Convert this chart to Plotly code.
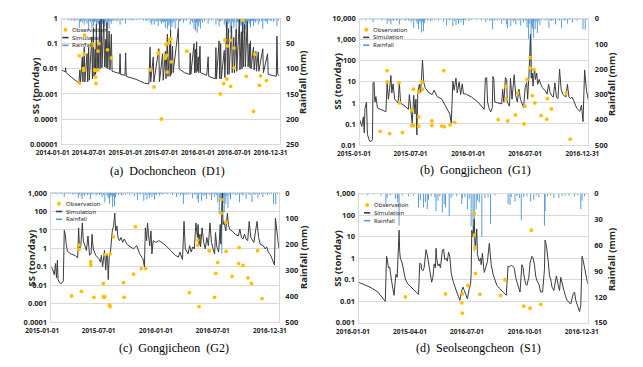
import plotly.graph_objects as go

# ---------------- data: (a) Dochoncheon (D1) ----------------
a_sim = [
("2014-01-01",0.009),("2014-01-18",0.0075),("2014-01-20",0.011),("2014-01-23",0.007),
("2014-02-20",0.0045),("2014-03-28",0.0027),("2014-04-02",0.009),("2014-04-05",0.0028),
("2014-04-14",0.03),("2014-04-17",0.003),("2014-04-24",0.073),("2014-04-27",0.003),
("2014-05-08",0.04),("2014-05-11",0.003),("2014-05-16",0.073),("2014-05-19",0.0035),
("2014-06-01",0.18),("2014-06-04",0.004),("2014-06-09",0.44),("2014-06-12",0.005),
("2014-06-18",0.06),("2014-06-20",0.006),("2014-06-24",0.59),("2014-06-27",0.008),
("2014-07-03",0.1),("2014-07-05",0.009),("2014-07-10",0.79),("2014-07-13",0.01),
("2014-07-18",1.0),("2014-07-22",0.011),("2014-07-31",0.9),("2014-08-04",0.012),
("2014-08-10",0.15),("2014-08-12",0.011),("2014-08-16",0.68),("2014-08-20",0.01),
("2014-08-27",0.32),("2014-08-31",0.009),("2014-09-07",0.24),("2014-09-11",0.008),
("2014-10-18",0.0065),("2014-10-21",0.04),("2014-10-24",0.006),("2014-11-15",0.0055),
("2014-11-18",0.043),("2014-11-21",0.005),("2015-01-10",0.0038),("2015-02-20",0.0027),
("2015-03-15",0.0025),("2015-03-21",0.073),("2015-03-24",0.003),("2015-04-06",0.03),
("2015-04-09",0.003),("2015-05-04",0.063),("2015-05-07",0.003),("2015-05-23",0.04),
("2015-05-26",0.0035),("2015-06-06",0.05),("2015-06-09",0.004),("2015-06-16",0.24),
("2015-06-19",0.005),("2015-06-28",0.1),("2015-06-30",0.005),("2015-07-02",0.35),
("2015-07-05",0.006),("2015-07-12",0.08),("2015-07-15",0.007),("2015-08-10",0.4),
("2015-08-14",0.01),("2015-09-10",0.007),("2015-10-06",0.006),("2015-10-09",0.043),
("2015-10-12",0.006),("2015-10-28",0.1),("2015-10-31",0.007),("2015-11-04",0.06),
("2015-11-07",0.007),("2015-11-10",0.12),("2015-11-13",0.008),("2015-11-18",0.03),
("2015-11-21",0.007),("2015-11-27",0.08),("2015-11-30",0.007),("2015-12-31",0.0055),
("2016-01-07",0.03),("2016-01-10",0.005),("2016-02-12",0.004),("2016-02-15",0.07),
("2016-02-18",0.004),("2016-03-02",0.13),("2016-03-05",0.004),("2016-03-10",0.1),
("2016-03-13",0.004),("2016-03-28",0.054),("2016-03-31",0.0045),("2016-04-10",0.76),
("2016-04-13",0.006),("2016-04-18",0.4),("2016-04-21",0.006),("2016-05-04",0.5),
("2016-05-07",0.007),("2016-05-15",0.18),("2016-05-18",0.007),("2016-05-27",0.37),
("2016-05-30",0.008),("2016-06-12",0.9),("2016-06-15",0.009),("2016-06-22",0.3),
("2016-06-25",0.01),("2016-06-28",1.0),("2016-07-02",0.012),("2016-07-09",0.58),
("2016-07-12",0.012),("2016-07-22",0.79),("2016-07-26",0.012),("2016-08-01",0.1),
("2016-08-04",0.011),("2016-08-07",0.13),("2016-08-10",0.01),("2016-08-22",0.073),
("2016-08-25",0.009),("2016-09-03",0.05),("2016-09-06",0.008),("2016-09-15",0.047),
("2016-09-18",0.008),("2016-10-08",0.063),("2016-10-11",0.007),("2016-11-01",0.04),
("2016-11-04",0.006),("2016-12-15",0.005),("2016-12-18",0.2),("2016-12-22",0.006),
("2016-12-31",0.005)]
a_obs = [
("2014-03-30",0.033),("2014-03-30",0.0027),("2014-04-20",0.0105),("2014-04-21",0.0086),
("2014-04-23",0.038),("2014-04-25",0.22),("2014-06-04",0.098),("2014-06-05",0.085),
("2014-06-15",0.009),("2014-06-18",0.0087),("2014-06-20",0.0047),("2014-06-22",0.0026),
("2014-07-02",0.009),("2014-07-02",0.051),("2014-07-07",0.1),("2014-08-19",0.057),
("2014-09-08",0.027),("2015-03-21",0.009),("2015-04-10",0.0019),("2015-05-01",0.044),
("2015-05-03",0.04),("2015-05-17",0.0001),("2015-06-06",0.027),("2015-06-09",0.093),
("2015-06-13",0.034),("2015-06-15",0.0074),("2015-06-23",0.107),("2015-06-28",0.15),
("2015-07-03",0.16),("2015-07-06",0.019),("2015-09-22",0.05),("2016-03-08",0.001),
("2016-03-25",0.0026),("2016-03-31",0.14),("2016-04-10",0.0039),("2016-04-12",0.082),
("2016-04-27",0.14),("2016-04-29",0.002),("2016-05-16",0.067),("2016-05-16",0.011),
("2016-06-29",0.86),("2016-07-17",0.005),("2016-08-22",0.0002),("2016-08-28",0.038),
("2016-09-21",0.0022),("2016-09-26",0.0052),("2016-10-26",0.0034)]
a_rain = [
("2014-01-05",1),("2014-01-12",2),("2014-01-28",2),("2014-02-05",3),("2014-02-12",2),
("2014-02-20",4),("2014-03-01",3),("2014-03-08",5),("2014-03-14",2),("2014-03-20",3),
("2014-03-30",18),("2014-04-05",6),("2014-04-09",4),("2014-04-14",8),("2014-04-19",3),
("2014-04-24",12),("2014-05-02",5),("2014-05-08",10),("2014-05-16",25),("2014-05-20",4),
("2014-05-25",6),("2014-06-01",18),("2014-06-05",6),("2014-06-09",15),("2014-06-15",8),
("2014-06-19",5),("2014-06-24",31),("2014-06-28",8),("2014-07-02",12),("2014-07-06",10),
("2014-07-10",37),("2014-07-14",12),("2014-07-18",34),("2014-07-25",10),("2014-07-31",28),
("2014-08-05",15),("2014-08-10",9),("2014-08-16",25),("2014-08-20",12),("2014-08-24",6),
("2014-08-27",20),("2014-09-02",5),("2014-09-07",10),("2014-09-14",4),("2014-09-20",5),
("2014-09-27",3),("2014-10-05",6),("2014-10-12",4),("2014-10-21",12),("2014-10-28",2),
("2014-11-02",4),("2014-11-10",3),("2014-11-18",10),("2014-11-26",2),("2014-12-05",3),
("2014-12-12",2),("2014-12-20",4),("2014-12-28",3),("2015-01-10",3),("2015-01-20",2),
("2015-01-28",2),("2015-02-05",2),("2015-02-15",4),("2015-02-25",3),("2015-03-05",5),
("2015-03-12",3),("2015-03-21",8),("2015-03-29",12),("2015-04-02",4),("2015-04-10",12),
("2015-04-15",5),("2015-04-20",6),("2015-04-27",4),("2015-05-01",15),("2015-05-06",3),
("2015-05-11",6),("2015-05-17",10),("2015-05-22",5),("2015-05-27",8),("2015-06-01",6),
("2015-06-06",18),("2015-06-11",5),("2015-06-16",21),("2015-06-23",14),("2015-06-28",9),
("2015-07-02",25),("2015-07-05",6),("2015-07-09",16),("2015-07-15",8),("2015-07-20",5),
("2015-07-25",20),("2015-08-01",4),("2015-08-10",21),("2015-08-15",5),("2015-08-20",6),
("2015-08-28",3),("2015-09-05",8),("2015-09-12",3),("2015-09-20",4),("2015-09-28",2),
("2015-10-09",12),("2015-10-14",4),("2015-10-20",8),("2015-10-28",21),("2015-11-01",6),
("2015-11-05",25),("2015-11-09",8),("2015-11-13",28),("2015-11-16",5),("2015-11-20",15),
("2015-11-24",6),("2015-11-29",20),("2015-12-04",3),("2015-12-10",8),("2015-12-20",5),
("2015-12-28",2),("2016-01-07",10),("2016-01-15",3),("2016-01-25",4),("2016-02-02",2),
("2016-02-15",12),("2016-02-22",4),("2016-03-02",15),("2016-03-06",5),("2016-03-10",6),
("2016-03-18",4),("2016-03-28",12),("2016-04-02",6),("2016-04-06",18),("2016-04-10",22),
("2016-04-14",5),("2016-04-17",10),("2016-04-22",7),("2016-04-27",28),("2016-05-04",20),
("2016-05-09",6),("2016-05-15",18),("2016-05-20",8),("2016-05-27",37),("2016-06-01",6),
("2016-06-05",8),("2016-06-08",5),("2016-06-12",25),("2016-06-16",10),("2016-06-20",15),
("2016-06-24",12),("2016-06-28",63),("2016-07-02",30),("2016-07-05",14),("2016-07-09",44),
("2016-07-13",10),("2016-07-16",20),("2016-07-19",8),("2016-07-22",34),("2016-07-27",6),
("2016-08-01",10),("2016-08-07",18),("2016-08-12",5),("2016-08-17",4),("2016-08-22",15),
("2016-08-28",5),("2016-09-02",8),("2016-09-08",4),("2016-09-15",12),("2016-09-22",6),
("2016-10-02",5),("2016-10-08",20),("2016-10-14",4),("2016-10-20",6),("2016-10-26",5),
("2016-11-01",10),("2016-11-08",3),("2016-11-15",5),("2016-11-22",4),("2016-12-01",6),
("2016-12-08",3),("2016-12-18",15),("2016-12-25",4)]

# ---------------- data: (b) Gongjicheon (G1) ----------------
b_sim = [
("2015-01-01",0.15),("2015-01-07",0.077),("2015-01-12",0.22),("2015-01-15",0.038),
("2015-01-17",0.54),("2015-01-22",1.1),("2015-01-25",0.032),("2015-02-01",0.0155),
("2015-02-06",0.015),("2015-02-10",0.018),("2015-02-12",9),("2015-02-15",10),
("2015-02-18",1.1),("2015-02-21",2),("2015-02-26",0.58),("2015-03-13",0.45),
("2015-03-25",0.38),("2015-03-29",9),("2015-04-02",1.5),("2015-04-06",5),
("2015-04-10",20),("2015-04-13",3),("2015-04-17",8),("2015-04-22",1.5),
("2015-05-03",1.0),("2015-05-07",9),("2015-05-11",1.0),("2015-05-25",0.7),
("2015-06-05",0.5),("2015-06-08",2.5),("2015-06-12",0.4),("2015-06-17",0.11),
("2015-06-22",2.3),("2015-06-26",0.3),("2015-06-29",1.5),("2015-07-02",0.03),
("2015-07-05",3.2),("2015-07-10",7.7),("2015-07-14",3),("2015-07-20",107),
("2015-07-24",9.5),("2015-07-29",5),("2015-08-10",3),("2015-08-20",2.5),
("2015-08-26",4),("2015-09-05",2),("2015-09-20",1.5),("2015-10-05",0.6),
("2015-10-15",0.3),("2015-10-20",0.11),("2015-10-25",11),("2015-10-29",4),
("2015-11-04",15),("2015-11-08",3),("2015-11-14",10),("2015-11-19",2.5),
("2015-11-24",8),("2015-11-28",2.7),("2015-12-04",2.7),("2015-12-24",1.9),
("2016-01-13",1.1),("2016-02-02",0.5),("2016-02-06",15),("2016-02-10",16),
("2016-02-13",1.1),("2016-02-18",0.54),("2016-02-23",0.37),("2016-02-28",0.6),
("2016-03-01",18),("2016-03-04",13),("2016-03-07",1.1),("2016-03-29",0.9),
("2016-04-01",4.5),("2016-04-05",1.1),("2016-04-10",16),("2016-04-14",13),
("2016-04-16",1.1),("2016-04-23",0.7),("2016-04-26",15),("2016-05-01",1.5),
("2016-05-08",22),("2016-05-13",2.2),("2016-05-18",1.1),("2016-05-23",4.5),
("2016-05-28",1.5),("2016-06-07",0.6),("2016-06-12",5.3),("2016-06-17",9.2),
("2016-06-20",1.5),("2016-06-24",18),("2016-06-27",1070),("2016-06-29",1800),
("2016-07-02",15),("2016-07-05",26),("2016-07-07",6.3),("2016-07-12",45),
("2016-07-15",13),("2016-07-19",26),("2016-07-22",7.6),("2016-07-27",13),
("2016-08-01",7.6),("2016-08-06",5.3),("2016-08-16",3.7),("2016-08-21",2.6),
("2016-08-26",7.6),("2016-08-31",3.1),("2016-09-05",2.2),("2016-09-10",1.9),
("2016-09-15",9),("2016-09-20",1.9),("2016-09-25",1.6),("2016-09-30",40),
("2016-10-05",4.5),("2016-10-10",2.6),("2016-10-15",2.2),("2016-10-20",1.9),
("2016-10-25",7.6),("2016-10-30",1.9),("2016-11-04",1.6),("2016-11-09",1.9),
("2016-11-14",1.3),("2016-11-19",0.8),("2016-11-24",0.55),("2016-12-04",0.4),
("2016-12-09",0.8),("2016-12-14",0.13),("2016-12-19",37),("2016-12-25",4),
("2016-12-31",1.3)]
b_obs = [
("2015-03-07",0.045),("2015-03-29",34),("2015-03-29",10),("2015-04-06",0.035),
("2015-05-06",9),("2015-05-08",1.0),("2015-05-17",0.04),("2015-06-16",0.45),
("2015-06-16",0.085),("2015-06-21",0.085),("2015-06-21",4.5),("2015-07-08",3.2),
("2015-07-08",0.22),("2015-07-08",0.08),("2015-07-18",10),("2015-07-20",4.5),
("2015-08-19",0.14),("2015-08-19",0.085),("2015-09-26",34),("2015-09-19",0.08),
("2015-09-28",0.075),("2015-10-16",0.09),("2015-10-31",0.12),("2016-03-18",0.16),
("2016-04-12",6),("2016-04-12",1.5),("2016-04-17",0.14),("2016-05-12",0.27),
("2016-05-19",3),("2016-06-08",0.1),("2016-06-11",0.7),("2016-06-18",13),
("2016-06-28",45),("2016-06-28",140),("2016-07-05",2.2),("2016-07-10",39),
("2016-07-13",1.0),("2016-08-02",0.25),("2016-08-22",1.6),("2016-08-20",0.17),
("2016-09-04",0.52),("2016-10-21",3),("2016-11-03",0.019)]

# ---------------- data: (c) Gongjicheon (G2) ----------------
c_sim = [
("2015-01-01",0.1),("2015-01-05",0.08),("2015-01-11",0.037),("2015-01-15",0.15),
("2015-01-18",0.025),("2015-01-21",0.23),("2015-01-23",0.02),("2015-01-28",0.0135),
("2015-02-02",0.012),("2015-02-09",0.017),("2015-02-12",9.5),("2015-02-15",6),
("2015-02-18",1.8),("2015-02-22",0.7),("2015-03-05",0.5),("2015-03-20",0.4),
("2015-03-27",0.3),("2015-03-30",13),("2015-04-02",0.93),("2015-04-06",1.4),
("2015-04-11",24),("2015-04-14",2.6),("2015-04-19",1.4),("2015-04-24",0.77),
("2015-04-29",4.7),("2015-05-04",0.42),("2015-05-09",0.5),("2015-05-12",5.8),
("2015-05-16",0.93),("2015-05-24",0.42),("2015-06-03",0.28),("2015-06-08",0.18),
("2015-06-11",0.42),("2015-06-15",0.1),("2015-06-21",0.77),("2015-06-25",0.066),
("2015-06-28",0.5),("2015-07-01",0.28),("2015-07-03",0.02),("2015-07-06",0.34),
("2015-07-10",0.63),("2015-07-14",3.2),("2015-07-16",8.8),("2015-07-20",16),
("2015-07-24",81),("2015-07-27",8.8),("2015-07-31",16),("2015-08-03",3.9),
("2015-08-08",2.6),("2015-08-13",3.9),("2015-08-18",2.1),("2015-08-23",3.2),
("2015-09-02",1.6),("2015-09-22",0.93),("2015-10-02",1.4),("2015-10-12",0.5),
("2015-10-22",0.28),("2015-10-27",0.1),("2015-10-30",13),("2015-11-03",2.6),
("2015-11-06",24),("2015-11-09",5.8),("2015-11-13",1.4),("2015-11-17",8.8),
("2015-11-20",0.5),("2015-11-24",2.6),("2015-12-02",2.1),("2015-12-12",2.6),
("2015-12-22",2.1),("2016-01-04",1.4),("2016-01-14",0.93),("2016-01-24",0.63),
("2016-02-03",0.42),("2016-02-13",0.34),("2016-02-18",0.63),("2016-02-23",0.34),
("2016-02-26",0.25),("2016-03-02",29),("2016-03-06",0.93),("2016-03-15",0.5),
("2016-03-20",1.4),("2016-03-25",0.63),("2016-03-30",1.2),("2016-04-04",0.93),
("2016-04-09",24),("2016-04-14",3.9),("2016-04-16",19.6),("2016-04-19",1.4),
("2016-04-22",5.8),("2016-04-24",1.2),("2016-04-29",13),("2016-05-04",2.1),
("2016-05-09",0.93),("2016-05-14",3.9),("2016-05-19",1.4),("2016-05-24",24),
("2016-05-29",2.1),("2016-06-03",0.93),("2016-06-08",0.5),("2016-06-11",7.2),
("2016-06-15",1.2),("2016-06-21",0.63),("2016-06-26",19.6),("2016-06-28",1.7),
("2016-07-01",500),("2016-07-03",1000),("2016-07-05",19.6),("2016-07-08",29),
("2016-07-14",8.8),("2016-07-19",81),("2016-07-22",19.6),("2016-07-26",11),
("2016-08-03",8.8),("2016-08-13",5.8),("2016-08-23",4.7),("2016-08-28",11),
("2016-09-02",3.9),("2016-09-07",3.2),("2016-09-12",5.8),("2016-09-17",3.2),
("2016-09-22",2.6),("2016-09-27",29),("2016-10-02",3.9),("2016-10-07",2.6),
("2016-10-12",2.1),("2016-10-22",29),("2016-10-27",3.9),("2016-11-01",1.7),
("2016-11-11",1.4),("2016-11-17",0.93),("2016-11-22",1.2),("2016-11-27",0.63),
("2016-12-02",0.5),("2016-12-07",0.34),("2016-12-12",0.18),("2016-12-17",0.125),
("2016-12-20",44),("2016-12-24",13),("2016-12-29",1.4),("2016-12-31",1.0)]
c_obs = [
("2015-03-07",0.0026),("2015-03-31",1.5),("2015-03-31",0.87),("2015-04-08",0.0047),
("2015-05-08",0.19),("2015-05-08",0.125),("2015-05-18",0.0022),("2015-06-17",0.0125),
("2015-06-17",0.0023),("2015-06-22",0.0023),("2015-06-23",0.46),("2015-07-07",0.00085),
("2015-07-09",0.0007),("2015-07-09",0.5),("2015-07-20",4.2),("2015-08-21",0.014),
("2015-08-23",0.0022),("2015-09-22",0.04),("2015-09-28",15),("2015-10-17",0.08),
("2015-10-31",0.08),("2016-03-19",0.004),("2016-04-15",2.8),("2016-04-15",1.5),
("2016-04-19",0.0007),("2016-05-22",0.74),("2016-06-08",0.0022),("2016-06-12",0.044),
("2016-06-18",0.17),("2016-06-29",440),("2016-06-29",80),("2016-07-14",26),
("2016-07-15",0.68),("2016-08-03",0.03),("2016-08-26",1.1),("2016-08-24",0.15),
("2016-09-07",0.12),("2016-09-23",0.025),("2016-10-04",0.0125),("2016-10-24",0.74),
("2016-11-07",0.0019)]

# rainfall shown in the two Gongjicheon panels (b) and (c)
g_rain = [
("2015-01-05",4),("2015-01-10",2),("2015-01-15",3),("2015-01-20",6),("2015-01-27",2),
("2015-02-01",3),("2015-02-05",5),("2015-02-12",15),("2015-02-18",4),("2015-02-25",4),
("2015-03-03",3),("2015-03-10",6),("2015-03-15",5),("2015-03-20",3),("2015-03-25",4),
("2015-03-29",20),("2015-04-02",6),("2015-04-07",12),("2015-04-10",23),("2015-04-14",5),
("2015-04-18",10),("2015-04-23",4),("2015-04-28",8),("2015-05-02",5),("2015-05-07",23),
("2015-05-11",4),("2015-05-15",6),("2015-05-20",3),("2015-05-25",10),("2015-05-30",5),
("2015-06-05",8),("2015-06-09",4),("2015-06-13",15),("2015-06-17",8),("2015-06-22",36),
("2015-06-26",6),("2015-06-30",10),("2015-07-03",20),("2015-07-07",42),("2015-07-10",8),
("2015-07-12",15),("2015-07-14",6),("2015-07-17",55),("2015-07-20",12),("2015-07-23",50),
("2015-07-26",18),("2015-07-30",5),("2015-08-05",8),("2015-08-10",4),("2015-08-15",10),
("2015-08-20",6),("2015-08-28",6),("2015-09-03",3),("2015-09-10",8),("2015-09-17",4),
("2015-09-25",12),("2015-10-01",3),("2015-10-05",27),("2015-10-10",5),("2015-10-15",6),
("2015-10-20",4),("2015-10-25",30),("2015-10-30",8),("2015-11-04",25),("2015-11-08",6),
("2015-11-12",20),("2015-11-16",5),("2015-11-20",15),("2015-11-24",6),("2015-11-28",25),
("2015-12-01",4),("2015-12-05",8),("2015-12-10",3),("2015-12-15",10),("2015-12-20",4),
("2015-12-25",6),("2015-12-30",2),("2016-01-05",3),("2016-01-10",5),("2016-01-18",2),
("2016-01-25",8),("2016-02-01",3),("2016-02-07",15),("2016-02-13",5),("2016-02-20",10),
("2016-02-25",6),("2016-02-29",42),("2016-03-05",8),("2016-03-10",4),("2016-03-15",8),
("2016-03-22",5),("2016-03-29",20),("2016-04-04",6),("2016-04-08",5),("2016-04-13",23),
("2016-04-17",38),("2016-04-22",6),("2016-04-27",30),("2016-05-01",5),("2016-05-05",12),
("2016-05-09",6),("2016-05-13",23),("2016-05-18",5),("2016-05-24",8),("2016-05-29",28),
("2016-06-03",4),("2016-06-07",15),("2016-06-12",6),("2016-06-15",8),("2016-06-18",36),
("2016-06-23",80),("2016-06-27",20),("2016-07-01",235),("2016-07-03",30),("2016-07-05",40),
("2016-07-07",15),("2016-07-09",75),("2016-07-11",10),("2016-07-14",42),("2016-07-17",12),
("2016-07-21",57),("2016-07-25",8),("2016-07-29",25),("2016-08-03",5),("2016-08-09",4),
("2016-08-15",8),("2016-08-21",6),("2016-08-27",36),("2016-09-01",5),("2016-09-05",10),
("2016-09-10",6),("2016-09-17",23),("2016-09-24",5),("2016-09-30",8),("2016-10-06",36),
("2016-10-11",4),("2016-10-15",8),("2016-10-19",5),("2016-10-25",20),("2016-10-30",6),
("2016-11-05",4),("2016-11-10",15),("2016-11-18",5),("2016-11-25",8),("2016-11-30",3),
("2016-12-07",4),("2016-12-14",42),("2016-12-21",44),("2016-12-26",5)]

# ---------------- data: (d) Seolseongcheon (S1) ----------------
d_sim = [
("2016-01-01",0.076),("2016-01-11",0.054),("2016-01-21",0.042),("2016-01-31",0.027),
("2016-02-10",0.012),("2016-02-12",0.01),("2016-02-14",1.23),("2016-02-15",0.98),
("2016-02-17",0.36),("2016-02-19",0.39),("2016-02-22",0.09),("2016-02-24",0.038),
("2016-02-26",0.019),("2016-02-27",0.046),("2016-02-29",0.18),("2016-03-02",0.13),
("2016-03-03",0.73),("2016-03-05",20),("2016-03-06",2.1),("2016-03-07",1.0),
("2016-03-10",0.6),("2016-03-12",0.3),("2016-03-15",0.107),("2016-03-19",0.064),
("2016-03-24",0.046),("2016-03-29",0.032),("2016-04-05",0.021),("2016-04-07",0.58),
("2016-04-09",0.55),("2016-04-10",0.3),("2016-04-12",0.26),("2016-04-14",0.36),
("2016-04-17",2.5),("2016-04-19",1.45),("2016-04-21",0.6),("2016-04-23",0.26),
("2016-04-26",0.077),("2016-04-28",0.13),("2016-04-30",0.55),("2016-05-02",0.36),
("2016-05-03",2.9),("2016-05-04",1.0),("2016-05-06",0.44),("2016-05-08",0.55),
("2016-05-10",0.36),("2016-05-13",2.2),("2016-05-15",2.7),("2016-05-17",0.87),
("2016-05-19",1.0),("2016-05-21",0.73),("2016-05-23",1.9),("2016-05-25",1.2),
("2016-05-27",0.22),("2016-05-30",0.09),("2016-06-02",0.046),("2016-06-05",0.027),
("2016-06-08",0.016),("2016-06-10",0.011),("2016-06-13",0.032),("2016-06-15",0.046),
("2016-06-17",0.032),("2016-06-20",0.019),("2016-06-22",0.013),("2016-06-25",0.038),
("2016-06-27",0.06),("2016-06-28",0.18),("2016-06-29",20),("2016-07-01",9.8),
("2016-07-03",66),("2016-07-04",8),("2016-07-05",3.9),("2016-07-07",23),
("2016-07-08",1.5),("2016-07-11",0.73),("2016-07-13",1.0),("2016-07-14",0.5),
("2016-07-16",1.7),("2016-07-18",0.36),("2016-07-19",0.22),("2016-07-22",0.44),
("2016-07-24",0.73),("2016-07-27",4.9),("2016-07-28",2.5),("2016-07-30",0.5),
("2016-08-02",0.18),("2016-08-06",0.09),("2016-08-08",0.055),("2016-08-13",0.038),
("2016-08-18",0.027),("2016-08-23",0.019),("2016-08-26",0.44),("2016-08-28",0.39),
("2016-08-31",0.48),("2016-09-02",0.44),("2016-09-05",0.34),("2016-09-07",0.13),
("2016-09-10",0.064),("2016-09-14",0.027),("2016-09-17",0.5),("2016-09-19",0.36),
("2016-09-20",0.18),("2016-09-23",0.064),("2016-09-25",0.055),("2016-09-28",0.13),
("2016-09-30",0.6),("2016-10-03",1.23),("2016-10-05",1.0),("2016-10-07",0.5),
("2016-10-09",0.15),("2016-10-11",0.09),("2016-10-14",0.064),("2016-10-17",0.027),
("2016-10-20",0.027),("2016-10-23",0.3),("2016-10-24",7),("2016-10-26",4),
("2016-10-29",0.73),("2016-10-31",0.15),("2016-11-02",0.107),("2016-11-04",0.046),
("2016-11-07",0.032),("2016-11-09",0.09),("2016-11-11",0.15),("2016-11-14",0.055),
("2016-11-16",0.032),("2016-11-18",0.13),("2016-11-20",0.064),("2016-11-23",0.032),
("2016-11-26",0.016),("2016-11-28",0.011),("2016-12-01",0.0094),("2016-12-04",0.0074),
("2016-12-08",0.023),("2016-12-10",0.027),("2016-12-12",0.011),("2016-12-15",0.0057),
("2016-12-18",0.0033),("2016-12-20",0.0066),("2016-12-22",1.23),("2016-12-24",0.73),
("2016-12-26",0.39),("2016-12-31",0.064)]
d_obs = [
("2016-03-15",0.016),("2016-05-18",0.022),("2016-06-13",0.0085),("2016-06-14",0.022),
("2016-06-14",0.0028),("2016-06-23",0.054),("2016-07-03",120),("2016-07-03",12),
("2016-07-04",3),("2016-07-05",0.2),("2016-07-12",0.021),("2016-08-14",0.019),
("2016-08-21",0.1),("2016-09-20",0.006),("2016-09-30",0.0048),("2016-10-02",20),
("2016-10-17",0.0072)]
d_rain = [
("2016-01-05",1),("2016-01-15",2),("2016-01-25",1),("2016-02-05",2),("2016-02-13",12),
("2016-02-15",5),("2016-02-20",2),("2016-02-28",6),("2016-03-02",5),("2016-03-03",10),
("2016-03-05",37),("2016-03-10",2),("2016-03-20",3),("2016-03-28",2),("2016-04-05",16),
("2016-04-08",8),("2016-04-13",16),("2016-04-16",10),("2016-04-19",18),("2016-04-21",7),
("2016-04-25",3),("2016-05-01",4),("2016-05-03",20),("2016-05-06",8),("2016-05-09",3),
("2016-05-13",22),("2016-05-16",12),("2016-05-18",16),("2016-05-24",26),("2016-05-27",5),
("2016-05-30",2),("2016-06-05",3),("2016-06-13",12),("2016-06-14",5),("2016-06-18",4),
("2016-06-22",18),("2016-06-25",6),("2016-06-28",38),("2016-07-01",45),("2016-07-03",67),
("2016-07-06",18),("2016-07-08",8),("2016-07-11",10),("2016-07-15",50),("2016-07-20",5),
("2016-07-25",4),("2016-07-29",35),("2016-08-05",2),("2016-08-26",12),("2016-08-29",13),
("2016-08-31",4),("2016-09-06",9),("2016-09-09",3),("2016-09-13",5),("2016-09-16",31),
("2016-09-20",4),("2016-09-25",3),("2016-10-01",9),("2016-10-06",7),("2016-10-10",2),
("2016-10-14",4),("2016-10-23",37),("2016-10-24",20),("2016-10-28",3),("2016-11-02",2),
("2016-11-07",5),("2016-11-15",5),("2016-11-20",3),("2016-11-25",2),("2016-12-01",2),
("2016-12-10",3),("2016-12-15",2),("2016-12-20",18),("2016-12-22",8),("2016-12-26",3)]

# ---------------- axis tick labels ----------------
a_xticks = ["2014-01-01","2014-07-01","2015-01-01","2015-07-01","2016-01-01","2016-07-01","2016-12-31"]
g_xticks = ["2015-01-01","2015-07-01","2016-01-01","2016-07-01","2016-12-31"]
d_xtickvals = ["2016-01-01","2016-04-01","2016-07-01","2016-10-01","2016-12-31"]
d_xticktext = ["2016-01-01","2015-04-01","2016-07-01","2016-10-01","2016-12-31"]
a_ss_ticks = [1e-5,1e-4,1e-3,1e-2,1e-1,1]
a_ss_text = ["0.00001","0.0001","0.001","0.01","0.1","1"]
b_ss_ticks = [1e-2,1e-1,1,10,100,1000,10000]
b_ss_text = ["0.01","0.1","1","10","100","1,000","10,000"]
c_ss_ticks = [1e-4,1e-3,1e-2,1e-1,1,10,100,1000]
c_ss_text = ["0.0001","0.001","0.01","0.1","1","10","100","1,000"]
d_ss_ticks = [1e-3,1e-2,1e-1,1,10,100,1000]
d_ss_text = ["0.001","0.01","0.1","1","10","100","1,000"]
a_rain_ticks = [0,50,100,150,200,250]
g_rain_ticks = [0,100,200,300,400,500]
d_rain_ticks = [0,30,60,90,120,150]
captions = ["(a)\u00a0\u00a0Dochoncheon\u00a0\u00a0(D1)", "(b)\u00a0\u00a0Gongjicheon\u00a0\u00a0(G1)",
            "(c)\u00a0\u00a0Gongjicheon\u00a0\u00a0(G2)", "(d)\u00a0\u00a0Seolseongcheon\u00a0\u00a0(S1)"]
legend_names = ["Observation", "Simulation", "Rainfall"]

# ---------------- styling / layout ----------------
W, H = 643, 367
def fx(p): return p / W
def fy(p): return 1 - p / H

C_OBS = "#FFC000"; C_SIM = "#3c3c3c"; C_RAIN = "#5B9BD5"; C_GRID = "#d9d9d9"; C_TXT = "#262626"

panels = [
    dict(sim=a_sim, obs=a_obs, rain=a_rain, xr=["2014-01-01","2016-12-31"], xtv=a_xticks, xtt=a_xticks,
         sst=a_ss_ticks, ssx=a_ss_text, ssr=[-5,0], rt=a_rain_ticks, rmax=250, xshift=-9,
         box=(38,269,14,143), ltitle=(10,83), rtitle=(294,80), cap=(150,171), leg=(38.5,25.5)),
    dict(sim=b_sim, obs=b_obs, rain=g_rain, xr=["2015-01-01","2016-12-31"], xtv=g_xticks, xtt=g_xticks,
         sst=b_ss_ticks, ssx=b_ss_text, ssr=[-2,4], rt=g_rain_ticks, rmax=500, xshift=-6,
         box=(354.3,596.7,14,144), ltitle=(331,78), rtitle=(622,82), cap=(477,170), leg=(357.7,25.3)),
    dict(sim=c_sim, obs=c_obs, rain=g_rain, xr=["2015-01-01","2016-12-31"], xtv=g_xticks, xtt=g_xticks,
         sst=c_ss_ticks, ssx=c_ss_text, ssr=[-4,3], rt=g_rain_ticks, rmax=500, xshift=-9,
         box=(26.7,268.3,193.3,326), ltitle=(6,260), rtitle=(295,260), cap=(157,353), leg=(31.7,204.3)),
    dict(sim=d_sim, obs=d_obs, rain=d_rain, xr=["2016-01-01","2016-12-31"], xtv=d_xtickvals, xtt=d_xticktext,
         sst=d_ss_ticks, ssx=d_ss_text, ssr=[-3,3], rt=d_rain_ticks, rmax=150, xshift=-6,
         box=(353.3,596,194,326.7), ltitle=(331,260), rtitle=(622,262), cap=(480,353), leg=(358.7,205.7)),
]

fig = go.Figure()
layout = dict(width=W, height=H, margin=dict(l=0, r=0, t=0, b=0), autosize=False,
              paper_bgcolor="white", plot_bgcolor="white", showlegend=False,
              font=dict(family="Noto Sans", color=C_TXT))
annotations = []
shapes = []
tickfont = dict(family="Noto Sans", size=7.5, color=C_TXT, weight="bold")
xtickfont = dict(family="Noto Sans", size=6.5, color=C_TXT, weight="bold")

for i, p in enumerate(panels, start=1):
    xa = "x" if i == 1 else f"x{i}"
    yr = f"y{2*i-1}" if i > 1 else "y"
    ys = f"y{2*i}"
    x0, x1, y0, y1 = p["box"]
    dx = [fx(x0), fx(x1)]
    dy = [fy(y1), fy(y0)]

    # rainfall: thin hanging bars (vertical stems from 0 mm)
    rx, ry = [], []
    for d, v in p["rain"]:
        rx += [d, d, None]
        ry += [0, v, None]
    sd = [d for d, v in p["sim"]]; sv = [v for d, v in p["sim"]]
    od = [d for d, v in p["obs"]]; ov = [v for d, v in p["obs"]]

    fig.add_trace(go.Scatter(x=rx, y=ry, xaxis=xa, yaxis=yr, name="Rainfall", mode="lines",
                             line=dict(color=C_RAIN, width=1), connectgaps=False))
    fig.add_trace(go.Scatter(x=sd, y=sv, xaxis=xa, yaxis=ys, mode="lines", name="Simulation",
                             line=dict(color=C_SIM, width=1)))
    fig.add_trace(go.Scatter(x=od, y=ov, xaxis=xa, yaxis=ys, mode="markers", name="Observation",
                             marker=dict(color=C_OBS, size=3.8, line=dict(width=0))))

    xkey = "xaxis" if i == 1 else f"xaxis{i}"
    rkey = "yaxis" if i == 1 else f"yaxis{2*i-1}"
    skey = f"yaxis{2*i}"
    layout[xkey] = dict(domain=dx, anchor=yr, type="date", range=p["xr"], tickmode="array",
                        tickvals=p["xtv"], ticktext=p["xtt"], tickfont=xtickfont, showgrid=False,
                        showline=True, mirror=True, linecolor=C_GRID, linewidth=1, ticks="",
                        zeroline=False, ticklabelstandoff=2, ticklabelshift=p["xshift"])
    layout[rkey] = dict(domain=dy, anchor=xa, side="right", range=[p["rmax"], 0], tickmode="array",
                        tickvals=p["rt"], tickfont=tickfont, showgrid=False, showline=True,
                        mirror=True, linecolor=C_GRID, linewidth=1, ticks="", zeroline=False,
                        ticklabelstandoff=4)
    layout[skey] = dict(overlaying=yr, anchor=xa, side="left", type="log", range=p["ssr"],
                        tickmode="array", tickvals=p["sst"], ticktext=p["ssx"], tickfont=tickfont,
                        showgrid=True, gridcolor=C_GRID, gridwidth=1, showline=False, ticks="",
                        zeroline=False, ticklabelstandoff=3)

    annotations.append(dict(text="SS (ton/day)", x=fx(p["ltitle"][0]), y=fy(p["ltitle"][1]),
                            xref="paper", yref="paper", textangle=-90, showarrow=False,
                            xanchor="center", yanchor="middle",
                            font=dict(family="Noto Sans", size=9.5, color=C_TXT, weight="bold")))
    annotations.append(dict(text="Rainfall (mm)", x=fx(p["rtitle"][0]), y=fy(p["rtitle"][1]),
                            xref="paper", yref="paper", textangle=-90, showarrow=False,
                            xanchor="center", yanchor="middle",
                            font=dict(family="Noto Sans", size=9.5, color=C_TXT, weight="bold")))
    annotations.append(dict(text=captions[i-1], x=fx(p["cap"][0]), y=fy(p["cap"][1]),
                            xref="paper", yref="paper", showarrow=False, xanchor="center",
                            yanchor="middle", font=dict(family="Liberation Serif", size=12, color="black")))
    # small in-plot legend
    lx, ly = p["leg"]
    step = 8
    shapes.append(dict(type="circle", xref="paper", yref="paper",
                       x0=fx(lx + 1.2), x1=fx(lx + 5.4), y0=fy(ly + 2.1), y1=fy(ly - 2.1),
                       fillcolor=C_OBS, line=dict(width=0)))
    shapes.append(dict(type="line", xref="paper", yref="paper", x0=fx(lx), x1=fx(lx + 6.6),
                       y0=fy(ly + step), y1=fy(ly + step), line=dict(color=C_SIM, width=1.6)))
    shapes.append(dict(type="line", xref="paper", yref="paper", x0=fx(lx), x1=fx(lx + 6.6),
                       y0=fy(ly + 2 * step), y1=fy(ly + 2 * step), line=dict(color=C_RAIN, width=1.6)))
    for k, nm in enumerate(legend_names):
        annotations.append(dict(text=nm, x=fx(lx + 8.5), y=fy(ly + k * step), xref="paper", yref="paper",
                                showarrow=False, xanchor="left", yanchor="middle",
                                font=dict(family="Noto Sans", size=6, color=C_TXT)))

layout["annotations"] = annotations
layout["shapes"] = shapes
fig.update_layout(**layout)
fig.write_html("out.html", config={"displayModeBar": False},
               post_script="document.body.style.margin='0px';")
